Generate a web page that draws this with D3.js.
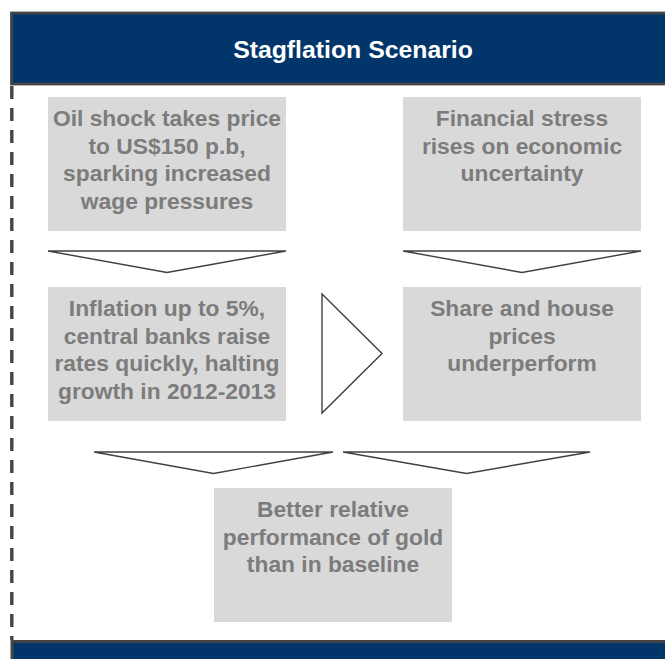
<!DOCTYPE html>
<html>
<head>
<meta charset="utf-8">
<script src="https://cdn.jsdelivr.net/npm/d3@7"></script>
<style>
  body { margin: 0; background: #fff; }
  svg { display: block; font-family: "Liberation Sans", Arial, sans-serif; }
</style>
</head>
<body>
<div id="chart"></div>
<script>
// Text content
const title = 'Stagflation Scenario';
const boxLabels = [
    ['Oil shock takes price', 'to US$150 p.b,', 'sparking increased', 'wage pressures'],
    ['Financial stress', 'rises on economic', 'uncertainty'],
    ['Inflation up to 5%,', 'central banks raise', 'rates quickly, halting', 'growth in 2012-2013'],
    ['Share and house', 'prices', 'underperform'],
    ['Better relative', 'performance of gold', 'than in baseline']
];

// Layout (pixels)
const width = 665, height = 659;
const boxW = 238, boxH = 134;
const boxPos = [[48, 97], [403, 97], [48, 287], [403, 287], [214, 488]];
const downArrows = [[48, 286, 251], [403, 641, 251], [94, 333, 452], [343, 590, 452]];
const arrowDepth = 21.5;
const rightArrow = {x0: 322, x1: 382, y0: 294, y1: 413};
const lineGap = 27.7;

const navy = '#02366b', frame = '#454545', boxFill = '#d9d9d9', textGray = '#7c7c7c';

const svg = d3.select('#chart').append('svg')
    .attr('width', width)
    .attr('height', height);

// Header band
svg.append('rect')
    .attr('x', 11.5).attr('y', 13)
    .attr('width', width).attr('height', 71)
    .attr('fill', navy)
    .attr('stroke', frame)
    .attr('stroke-width', 2.8);

svg.append('text')
    .attr('x', 353)
    .attr('y', 58)
    .attr('text-anchor', 'middle')
    .attr('fill', '#fff')
    .style('font-size', '24.8px')
    .style('font-weight', 'bold')
    .text(title);

// Footer band
svg.append('rect')
    .attr('x', 12).attr('y', 641.5)
    .attr('width', width).attr('height', 40)
    .attr('fill', navy)
    .attr('stroke', frame)
    .attr('stroke-width', 3);

// Dashed left edge
svg.append('line')
    .attr('x1', 11.8).attr('x2', 11.8)
    .attr('y1', 86).attr('y2', 640)
    .attr('stroke', frame)
    .attr('stroke-width', 3.4)
    .attr('stroke-dasharray', '13 9');

// Boxes
const boxes = svg.selectAll('.box')
    .data(boxLabels)
    .join('g')
    .attr('class', 'box')
    .attr('transform', (d, i) => `translate(${boxPos[i][0]},${boxPos[i][1]})`);

boxes.append('rect')
    .attr('width', boxW)
    .attr('height', boxH)
    .attr('fill', boxFill);

boxes.selectAll('text')
    .data(d => d)
    .join('text')
    .attr('x', boxW / 2)
    .attr('y', (d, i) => 29 + i * lineGap)
    .attr('text-anchor', 'middle')
    .attr('fill', textGray)
    .style('font-size', '22.8px')
    .style('font-weight', 'bold')
    .text(d => d);

// Down arrows
svg.selectAll('.down')
    .data(downArrows)
    .join('path')
    .attr('class', 'down')
    .attr('d', d => d3.line()([[d[0], d[2]], [d[1], d[2]], [(d[0] + d[1]) / 2, d[2] + arrowDepth], [d[0], d[2]]]))
    .attr('fill', 'none')
    .attr('stroke', '#404040')
    .attr('stroke-width', 1.4)
    .attr('stroke-linejoin', 'miter');

// Right arrow
svg.append('path')
    .attr('d', d3.line()([[rightArrow.x0, rightArrow.y0], [rightArrow.x1, (rightArrow.y0 + rightArrow.y1) / 2],
        [rightArrow.x0, rightArrow.y1]]) + 'Z')
    .attr('fill', 'none')
    .attr('stroke', '#404040')
    .attr('stroke-width', 1.4);
</script>
</body>
</html>
